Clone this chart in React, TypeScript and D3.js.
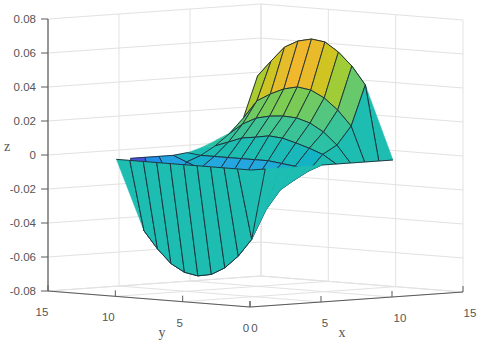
import React from 'react';
import * as d3 from 'd3';

const gridSteps = [0, 1, 2, 3, 4, 5, 6, 7, 8, 9, 10];

// z along y = 0..10, one list per x
const zAtX0 = [0, 0, 0, 0, 0, 0, 0, 0, 0, 0, 0];
const zAtX1 = [0, -0.042, -0.0525, -0.06, -0.0645, -0.066, -0.0645, -0.06, -0.052, -0.042, 0];
const zAtX2 = [0, -0.0253, -0.032, -0.036, -0.04, -0.041, -0.04, -0.036, -0.032, -0.025, 0];
const zAtX3 = [0, -0.0142, -0.0195, -0.0222, -0.024, -0.0245, -0.024, -0.0222, -0.0195, -0.0155, 0];
const zAtX4 = [0, -0.0089, -0.007, -0.0095, -0.012, -0.0133, -0.013, -0.012, -0.0065, -0.0033, 0];
const zAtX5 = [0, -0.0042, -0.002, -0.001, 0, 0, 0, 0, 0, 0, 0.001];
const zAtX6 = [0, 0.005, 0.008, 0.0105, 0.0127, 0.0134, 0.012, 0.0109, 0.0079, 0.005, 0.0035];
const zAtX7 = [0, 0.0099, 0.017, 0.0216, 0.024, 0.0245, 0.0238, 0.022, 0.0179, 0.0115, 0.007];
const zAtX8 = [0, 0.0205, 0.0293, 0.0358, 0.0398, 0.041, 0.0392, 0.0356, 0.0309, 0.0202, 0.011];
const zAtX9 = [0, 0.0441, 0.0546, 0.0622, 0.0675, 0.0686, 0.0668, 0.0626, 0.0538, 0.0444, 0];
const zAtX10 = [0, 0, 0, 0, 0, 0, 0, 0, 0, 0, 0];
const zRows = [zAtX0, zAtX1, zAtX2, zAtX3, zAtX4, zAtX5, zAtX6, zAtX7, zAtX8, zAtX9, zAtX10];

const floorTicks = [0, 5, 10, 15];
const zTicks = [-0.08, -0.06, -0.04, -0.02, 0, 0.02, 0.04, 0.06, 0.08];
const zLabels = ['-0.08', '-0.06', '-0.04', '-0.02', '0', '0.02', '0.04', '0.06', '0.08'];
const xLabelNudge = [4.5, 4, 8, 7];
const yLabelNudge = [-4, -3, -7, -6];

const parulaStops = [0, 0.18, 0.31, 0.4, 0.46, 0.5, 0.6, 0.68, 0.72, 0.76, 0.8, 1];
const parulaColors = ['#3e26a8', '#4a50e0', '#2090e8', '#24a8e0', '#14b2c6', '#1fbfae', '#45c58e', '#80cc50', '#a8cc30', '#d0c422', '#f2b82e', '#f9fb15'];

// cells drawn without an outline in the reference
const bareCells = ['1,0', '2,0', '3,0', '4,0', '5,9', '6,9', '7,9', '8,9'];

const sx = d3.scaleLinear().domain([0, 15]);
const sxPx = sx.copy().range([0, 213]);
const sxRise = sx.copy().range([0, -15]);
const syPx = sx.copy().range([0, -202]);
const syRise = sx.copy().range([0, -16]);
const szRise = d3.scaleLinear().domain([-0.08, 0.08]).range([0, -272]);
const color = d3.scaleLinear<string>().domain(parulaStops.map(t => -0.066 + t * 0.134)).range(parulaColors);

const ORIGIN = [250, 307];

const project = (x: number, y: number, z: number): [number, number] => [
  ORIGIN[0] + sxPx(x) + syPx(y),
  ORIGIN[1] + sxRise(x) + syRise(y) + szRise(z),
];

const line = d3.line();

const App = () => {
  const vertex = (i: number, j: number) => project(gridSteps[i], gridSteps[j], zRows[i][j]);
  const cells: React.ReactElement[] = [];

  // back to front, painter's order
  for (let i = gridSteps.length - 2; i >= 0; i--) {
    for (let j = gridSteps.length - 2; j >= 0; j--) {
      const a = vertex(i, j), b = vertex(i + 1, j), c = vertex(i + 1, j + 1), d = vertex(i, j + 1);
      let outline: [number, number][] = [a, b, c, d, a];
      let fill = line([a, b, c, d]) + 'Z';
      if (i === 0 && j === 9) {
        // far left corner comes to a point
        fill = line([a, b, d]) + 'Z';
        outline = [d, a, b];
      } else if (i === 9 && j === 0) {
        fill = line([a, b, d]) + 'Z';
        outline = [b, a, d];
      }
      const bare = bareCells.includes(`${i},${j}`);
      cells.push(
        <g key={`${i}-${j}`}>
          <path d={fill} fill={color(zRows[i][j])} stroke={color(zRows[i][j])} strokeWidth={0.4} />
          {!bare && <path d={line(outline) as string} fill="none" stroke="#1c2a33" strokeWidth={0.9} />}
        </g>
      );
    }
  }

  const gridColor = '#e2e2e2';
  const axisColor = '#5a5a5a';
  const txt = '#555555';
  const L = (p: [number, number], q: [number, number], stroke: string, w = 1, key?: string) => (
    <line key={key} x1={p[0]} y1={p[1]} x2={q[0]} y2={q[1]} stroke={stroke} strokeWidth={w} />
  );

  return (
    <svg width={480} height={340} style={{ position: 'absolute', left: 0, top: 0, background: '#fff' }}>
      <g>
        {floorTicks.map(t => L(project(t, 15, -0.08), project(t, 15, 0.08), gridColor, 1, `xw${t}`))}
        {floorTicks.map(t => L(project(15, t, -0.08), project(15, t, 0.08), gridColor, 1, `yw${t}`))}
        {floorTicks.map(t => L(project(t, 0, -0.08), project(t, 15, -0.08), gridColor, 1, `fx${t}`))}
        {floorTicks.map(t => L(project(0, t, -0.08), project(15, t, -0.08), gridColor, 1, `fy${t}`))}
        {zTicks.map(z => L(project(0, 15, z), project(15, 15, z), gridColor, 1, `zl${z}`))}
        {zTicks.map(z => L(project(15, 15, z), project(15, 0, z), gridColor, 1, `zr${z}`))}
      </g>
      <g transform="translate(1,-1)">{cells}</g>
      <g>
        {L(project(0, 15, -0.08), project(0, 15, 0.08), axisColor, 1.2)}
        {L(project(0, 15, -0.08), project(0, 0, -0.08), axisColor, 1.2)}
        {L(project(0, 0, -0.08), project(15, 0, -0.08), axisColor, 1.2)}
        {zTicks.map(z => {
          const p = project(0, 15, z);
          return L(p, [p[0] - 7, p[1]], axisColor, 1, `zt${z}`);
        })}
        {floorTicks.map(t => {
          const p = project(t, 0, -0.08);
          return L(p, [p[0], p[1] - 6], axisColor, 1, `xt${t}`);
        })}
        {floorTicks.map(t => {
          const p = project(0, t, -0.08);
          return L(p, [p[0], p[1] - 6], axisColor, 1, `yt${t}`);
        })}
      </g>
      <g fontFamily="Liberation Sans" fontSize={11.5} fill={txt}>
        {zTicks.map((z, k) => {
          const p = project(0, 15, z);
          return <text key={z} x={p[0] - 12} y={p[1] + 4} textAnchor="end">{zLabels[k]}</text>;
        })}
        {floorTicks.map((t, k) => {
          const p = project(t, 0, -0.08);
          return <text key={t} x={p[0] + xLabelNudge[k]} y={p[1] + 25} textAnchor="middle">{t}</text>;
        })}
        {floorTicks.map((t, k) => {
          const p = project(0, t, -0.08);
          return <text key={t} x={p[0] + yLabelNudge[k]} y={p[1] + 25} textAnchor="middle">{t}</text>;
        })}
      </g>
      <g fontFamily="Liberation Serif" fontSize={14} fill={txt} textAnchor="middle">
        <text x={342} y={337}>x</text>
        <text x={162} y={337}>y</text>
        <text x={7} y={151}>z</text>
      </g>
    </svg>
  );
};

export default App;
